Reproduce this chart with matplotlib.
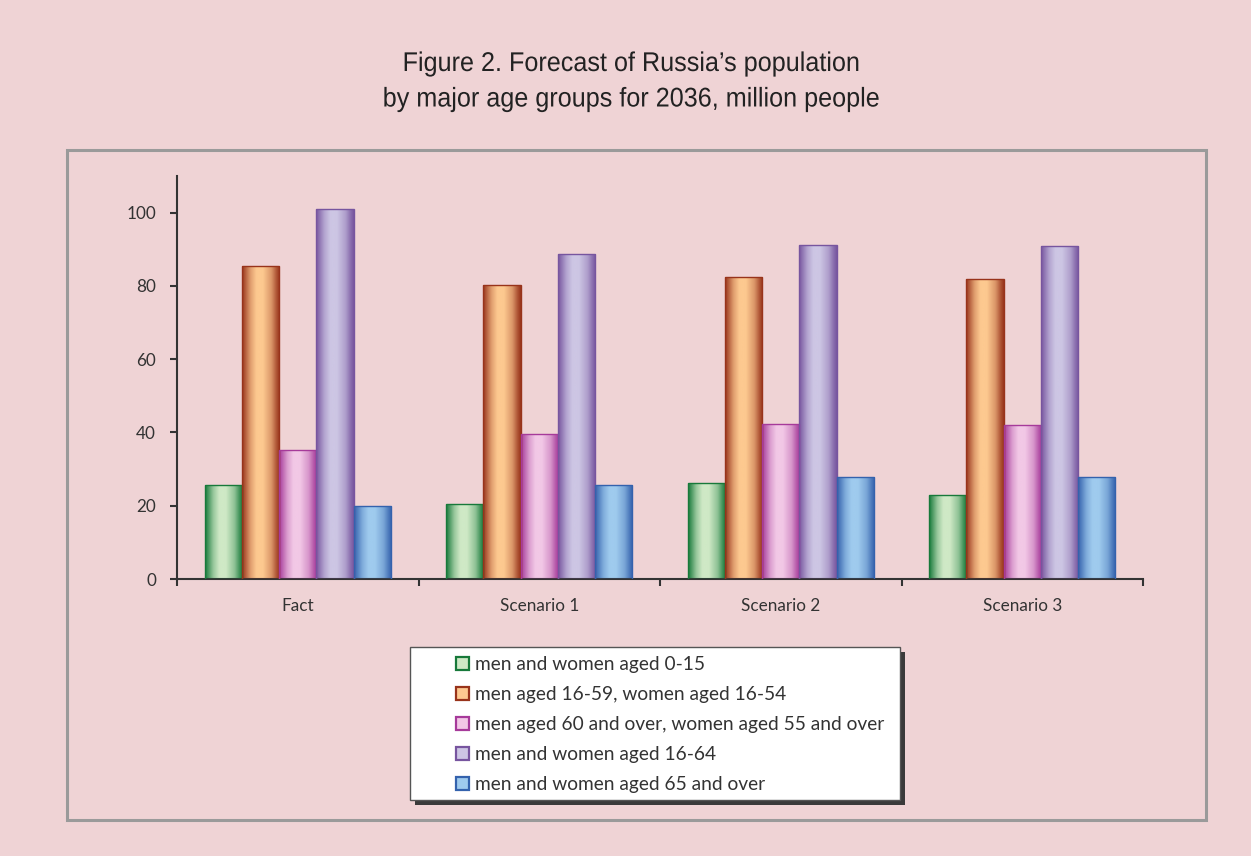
import numpy as np
import matplotlib
matplotlib.use("Agg")
import matplotlib.pyplot as plt
from matplotlib.colors import LinearSegmentedColormap, to_rgb
from matplotlib.patches import Rectangle, Patch
from matplotlib.patheffects import AbstractPathEffect
from matplotlib.transforms import Affine2D

# Data: population by major age groups, million people
categories = ["Fact", "Scenario 1", "Scenario 2", "Scenario 3"]
series_labels = [
    "men and women aged 0-15",
    "men aged 16-59, women aged 16-54",
    "men aged 60 and over, women aged 55 and over",
    "men and women aged 16-64",
    "men and women aged 65 and over",
]
aged_0_15 = [25.6, 20.6, 26.1, 22.9]
working_age = [85.5, 80.3, 82.5, 81.9]
pension_age = [35.1, 39.5, 42.4, 42.1]
aged_16_64 = [101.0, 88.8, 91.3, 90.8]
aged_65_over = [19.8, 25.7, 27.9, 27.8]
series_values = [aged_0_15, working_age, pension_age, aged_16_64, aged_65_over]

title_lines = ["Figure 2. Forecast of Russia\u2019s population",
               "by major age groups for 2036, million people"]

# (edge / dark colour, centre / light colour) for each series
palette = [
    ("#17793a", "#cfe9c6"),
    ("#98331b", "#fdc990"),
    ("#a63a9a", "#f2c8e6"),
    ("#77559f", "#cdc6e4"),
    ("#3462ad", "#9fcbee"),
]

BG = "#efd3d5"
TXT = "#333333"
tick_font = ["Lato", "DejaVu Sans"]

fig = plt.figure(figsize=(12.51, 8.56), dpi=100, facecolor=BG)
W, H = 1251, 856


def fx(px):
    return px / W


def fy(py):
    return 1 - py / H


class Condense(AbstractPathEffect):
    """Narrow the glyphs horizontally about a fixed display x."""

    def __init__(self, sx, cx):
        super().__init__()
        self.sx, self.cx = sx, cx

    def draw_path(self, renderer, gc, tpath, affine, rgbFace=None):
        squeeze = Affine2D().translate(-self.cx, 0).scale(self.sx, 1).translate(self.cx, 0)
        renderer.draw_path(gc, tpath, affine + squeeze, rgbFace)


def shade(dark, light, t):
    d = np.array(to_rgb(dark))
    l = np.array(to_rgb(light))
    return tuple(l + (d - l) * t)


# outer frame
fig.patches.append(Rectangle((fx(67), fy(820)), fx(1206) - fx(67), fy(150) - fy(820),
                             transform=fig.transFigure, fill=False,
                             edgecolor="#9a9a9a", lw=2.2, zorder=0))

title_cx = 632
for line, base in zip(title_lines, (71, 106.5)):
    fig.text(fx(title_cx), fy(base), line, ha="center", va="baseline", fontsize=19.5,
             family=["Liberation Sans", "DejaVu Sans"], color="#222222",
             path_effects=[Condense(0.93, title_cx)])

ax = fig.add_axes([fx(177), fy(579), fx(1143) - fx(177), fy(176) - fy(579)])
ax.set_facecolor("none")

n = len(series_values)
bar_w = 0.77 / n
x = np.arange(len(categories))

grad = np.linspace(0, 1, 256).reshape(1, -1)
for i, (vals, (dark, light)) in enumerate(zip(series_values, palette)):
    offs = x + (i - (n - 1) / 2) * bar_w
    bars = ax.bar(offs, vals, width=bar_w, facecolor="none", edgecolor=dark,
                  linewidth=1.0, zorder=3)
    cmap = LinearSegmentedColormap.from_list(
        "g", [(0.0, dark), (0.08, shade(dark, light, 0.75)),
              (0.22, shade(dark, light, 0.3)), (0.38, light), (0.55, light),
              (0.78, shade(dark, light, 0.35)), (0.92, shade(dark, light, 0.8)),
              (1.0, dark)])
    for b in bars:
        x0, w, h = b.get_x(), b.get_width(), b.get_height()
        im = ax.imshow(grad, cmap=cmap, extent=[x0, x0 + w, 0, h],
                       aspect="auto", interpolation="bicubic", zorder=2)
        im.set_clip_path(b)

ax.set_xlim(-0.5, len(categories) - 0.5)
ax.set_ylim(0, 110)
ax.set_yticks(np.arange(0, 101, 20))
ax.set_xticks(x)
ax.set_xticklabels(categories)
ax.set_xticks(np.arange(-0.5, len(categories), 1.0), minor=True)

for side in ("top", "right"):
    ax.spines[side].set_visible(False)
for side in ("left", "bottom"):
    ax.spines[side].set_color(TXT)
    ax.spines[side].set_linewidth(1.5)

ax.tick_params(axis="x", which="major", length=0, pad=14, labelsize=12.3,
               labelcolor=TXT)
ax.tick_params(axis="x", which="minor", length=5, width=1.5, color=TXT,
               direction="out")
ax.tick_params(axis="y", length=5, width=1.5, color=TXT, pad=10, labelsize=12.3,
               labelcolor=TXT)
for lab in ax.get_xticklabels() + ax.get_yticklabels():
    lab.set_family(tick_font)

# legend box with drop shadow
lx0, lx1, ly0, ly1 = 410, 900, 647, 800
fig.patches.append(Rectangle((fx(lx0 + 5), fy(ly1 + 5)), fx(lx1) - fx(lx0), fy(ly0) - fy(ly1),
                             transform=fig.transFigure, facecolor="#3a3a3a",
                             edgecolor="none", zorder=1))
fig.patches.append(Rectangle((fx(lx0), fy(ly1)), fx(lx1) - fx(lx0), fy(ly0) - fy(ly1),
                             transform=fig.transFigure, facecolor="white",
                             edgecolor="#555555", lw=1.0, zorder=2))

handles = [Patch(facecolor=light, edgecolor=dark, linewidth=1.6)
           for dark, light in palette]
leg = fig.legend(handles, series_labels, loc="upper left",
                 bbox_to_anchor=(fx(456), fy(656)), frameon=False,
                 borderpad=0, borderaxespad=0, handlelength=0.7,
                 handleheight=0.7, handletextpad=0.28, labelspacing=0.68,
                 prop={"family": tick_font, "size": 13.8})
leg.set_zorder(5)
for t in leg.get_texts():
    t.set_color(TXT)

fig.savefig("out.png", dpi=100, facecolor=BG)
